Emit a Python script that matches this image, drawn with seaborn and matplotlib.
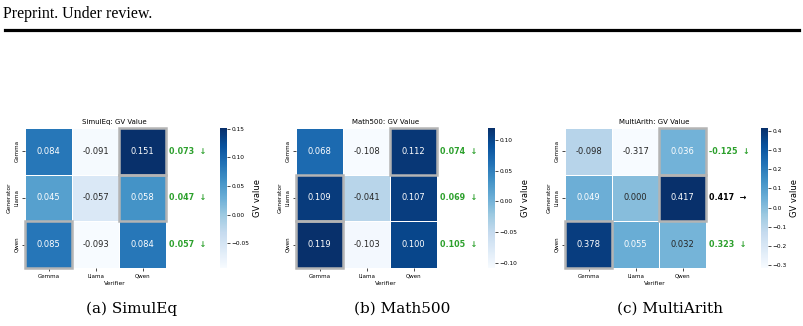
import numpy as np
import pandas as pd
import matplotlib.pyplot as plt
import seaborn as sns
from matplotlib.patches import Rectangle
from matplotlib.lines import Line2D

verifiers = ["Gemma", "Llama", "Qwen"]
generators = ["Gemma", "Llama", "Qwen"]

simuleq = [[0.084, -0.091, 0.151],
           [0.045, -0.057, 0.058],
           [0.085, -0.093, 0.084]]
math500 = [[0.068, -0.108, 0.112],
           [0.109, -0.041, 0.107],
           [0.119, -0.103, 0.100]]
multiarith = [[-0.098, -0.317, 0.036],
              [0.049, 0.000, 0.417],
              [0.378, 0.055, 0.032]]

# side column: value + arrow, arrow "down" drawn green, "right" drawn black
simuleq_side = [0.073, 0.047, 0.057]
math500_side = [0.074, 0.069, 0.105]
multiarith_side = [-0.125, 0.417, 0.323]
simuleq_arrow = ["down", "down", "down"]
math500_arrow = ["down", "down", "down"]
multiarith_arrow = ["down", "right", "down"]

datasets = ["SimulEq", "Math500", "MultiArith"]
captions = ["(a) SimulEq", "(b) Math500", "(c) MultiArith"]

W, H = 804, 326


def px_rect(left, right, top, bottom):
    return [left / W, 1 - bottom / H, (right - left) / W, (bottom - top) / H]


def plot_heat(ax, cax, values, side, arrows, name):
    data = pd.DataFrame(values, index=generators, columns=verifiers)

    sns.heatmap(data, ax=ax, cbar_ax=cax, cmap="Blues", annot=True, fmt=".3f",
                annot_kws={"fontsize": 6}, linewidths=0.6, linecolor="white",
                cbar_kws={"label": "GV value"})

    # outline the best verifier of each row
    arr = np.array(values)
    for i in range(arr.shape[0]):
        j = int(np.argmax(arr[i]))
        ax.add_patch(Rectangle((j, i), 1, 1, fill=False, edgecolor="#b4b4b4",
                               lw=1.8, clip_on=False, zorder=5))

    for i, (v, a) in enumerate(zip(side, arrows)):
        if a == "down":
            txt, col = f"{v:.3f}  \u2193", "#2ca02c"
        else:
            txt, col = f"{v:.3f}  \u2192", "black"
        ax.text(3.05, i + 0.5, txt, ha="left", va="center", fontsize=5.8,
                fontweight="bold", color=col)

    ax.set_xlim(0, 3.8)
    ax.set_title(name + ": GV Value", fontsize=5, pad=3)
    ax.set_xlabel("Verifier", fontsize=4.3, labelpad=2)
    ax.set_ylabel("Generator", fontsize=4.3, labelpad=2)
    ax.set_xticks([0.5, 1.5, 2.5])
    ax.set_xticklabels(verifiers, fontsize=4.0, rotation=0)
    ax.set_yticklabels(generators, fontsize=4.0, rotation=90, va="center")
    ax.tick_params(length=2, width=0.5, pad=2)

    cax.tick_params(labelsize=4.2, length=2, width=0.5, pad=1.5)
    cax.set_ylabel("GV value", fontsize=6, labelpad=2)


fig = plt.figure(figsize=(W / 100, H / 100), dpi=100)

heat_pos = [(25, 204), (296, 475), (565, 744)]
cbar_pos = [(220, 227), (488, 495), (761, 768)]
all_values = [simuleq, math500, multiarith]
all_side = [simuleq_side, math500_side, multiarith_side]
all_arrows = [simuleq_arrow, math500_arrow, multiarith_arrow]

for k in range(3):
    ax = fig.add_axes(px_rect(heat_pos[k][0], heat_pos[k][1], 128, 268))
    cax = fig.add_axes(px_rect(cbar_pos[k][0], cbar_pos[k][1], 128, 268))
    plot_heat(ax, cax, all_values[k], all_side[k], all_arrows[k], datasets[k])

# page header + captions
fig.text(3 / W, 1 - 13.5 / H, "Preprint. Under review.", ha="left", va="center",
         fontsize=11.5, family="Liberation Serif")
fig.add_artist(Line2D([5 / W, 799 / W], [1 - 29.5 / H, 1 - 29.5 / H],
                      transform=fig.transFigure, color="black", lw=2.3))

cap_x = [132, 402, 670]
for x, c in zip(cap_x, captions):
    fig.text(x / W, 1 - 309 / H, c, ha="center", va="center", fontsize=11,
             family="DejaVu Serif")

plt.savefig("out.png", dpi=100)
